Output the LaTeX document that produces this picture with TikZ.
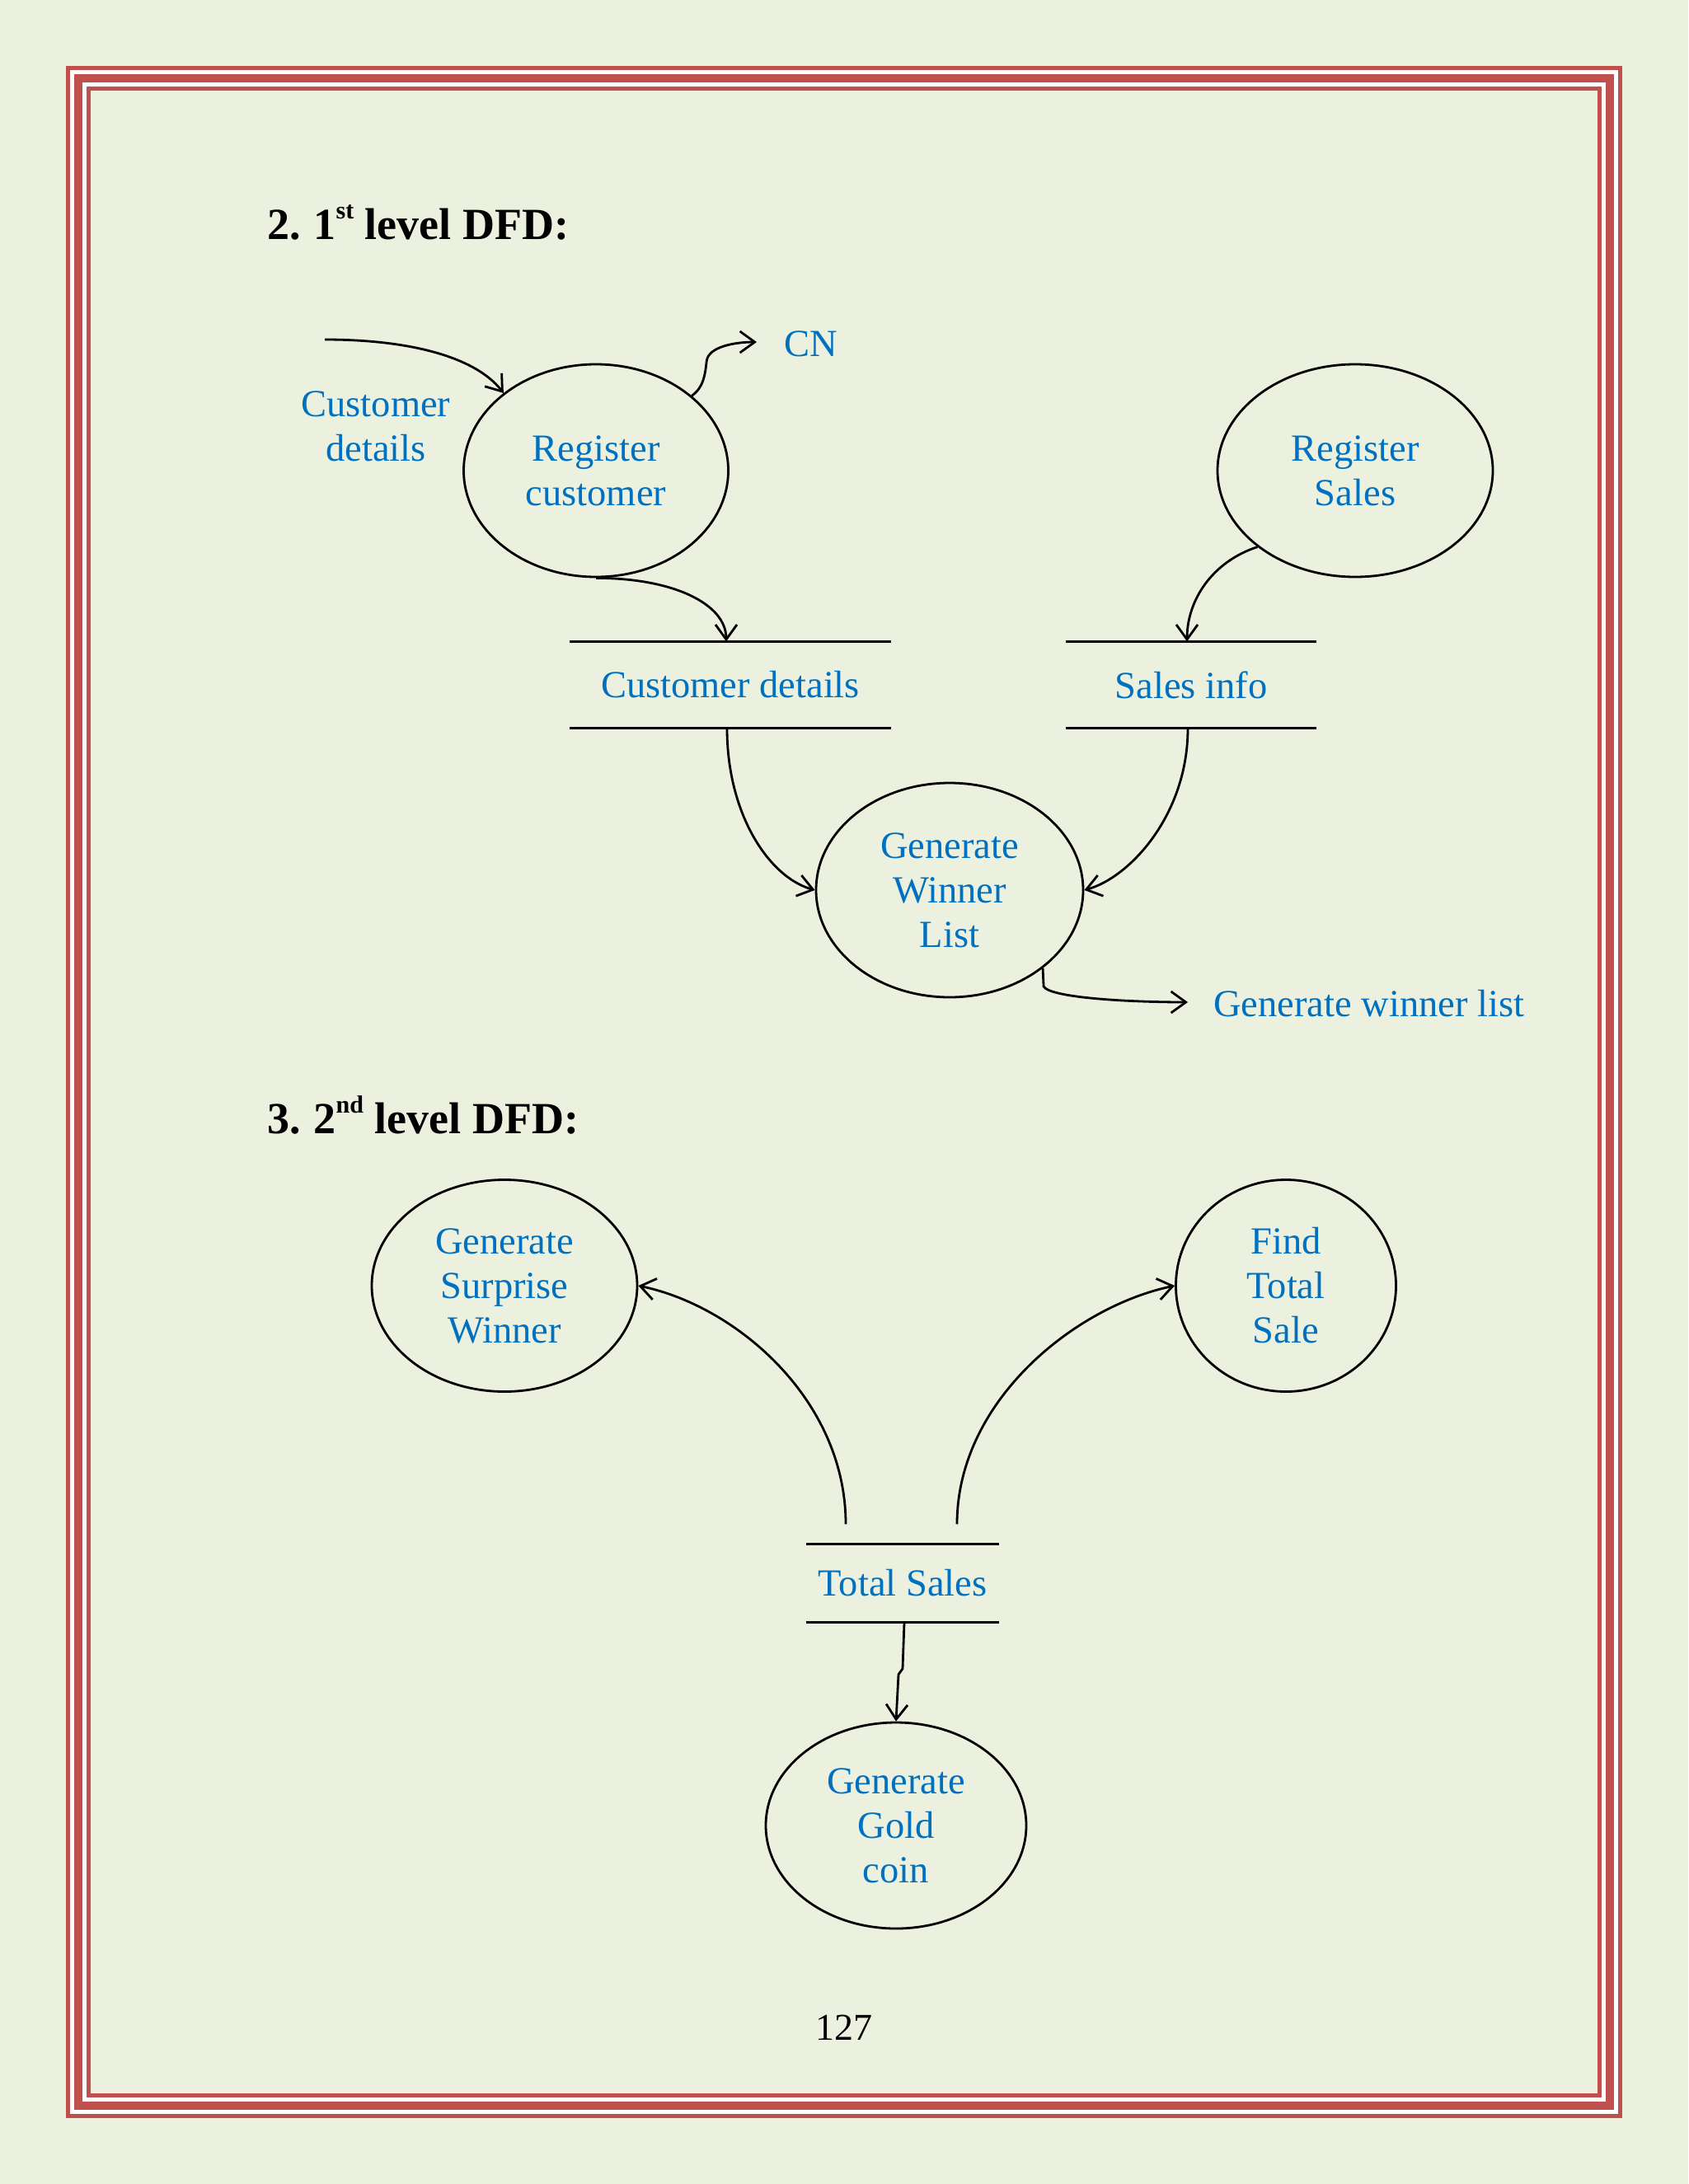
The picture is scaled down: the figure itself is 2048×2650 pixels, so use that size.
\documentclass[tikz,border=0pt]{standalone}
\usepackage{fontspec}
\setmainfont{Liberation Serif}
\usetikzlibrary{arrows.meta,shapes.geometric,calc}
\definecolor{pagebg}{HTML}{EBF1DE}
\definecolor{bordred}{HTML}{C0504D}
\definecolor{txtblue}{HTML}{0070C0}
\newcommand{\mysup}[1]{\raisebox{25pt}{\fontsize{30}{30}\selectfont #1}}
\begin{document}
\begin{tikzpicture}[x=1pt,y=-1pt,
  proc/.style={ellipse, draw=black, line width=2.8pt, inner sep=0pt, text=txtblue, align=center,
    font=\fontsize{46.5}{54}\selectfont},
  store/.style={rectangle, draw=none, inner sep=0pt, text=txtblue,
    font=\fontsize{46.5}{54}\selectfont},
  lbl/.style={inner sep=0pt, text=txtblue, align=center, font=\fontsize{46.5}{54}\selectfont},
  head/.style={inner sep=0pt, anchor=base west, font=\fontsize{54}{60}\selectfont\bfseries},
  flow/.style={line width=2.8pt, draw=black, -{Straight Barb[length=18pt,width=26pt,line width=2.8pt]}},
  sline/.style={line width=2.8pt, draw=black}
]
\useasboundingbox (0,0) rectangle (2048,2650);
\fill[pagebg] (0,0) rectangle (2048,2650);
% border
\fill[bordred] (80,80) rectangle (1968,2570);
\fill[white] (85,85) rectangle (1963,2565);
\fill[bordred] (90,90) rectangle (1958,2560);
\fill[white] (100,100) rectangle (1948,2550);
\fill[bordred] (105,105) rectangle (1943,2545);
\fill[pagebg] (110,110) rectangle (1938,2540);

% headings
\node[head] (h1) at (324,290) {2.\hspace{-2pt} 1\mysup{st} level DFD:};
\node[head] (h2) at (324,1375) {3.\hspace{-2pt} 2\mysup{nd} level DFD:};

% level 1 processes
\node[proc, minimum width=321pt, minimum height=258pt] (rc) at (723,571) {Register\\customer};
\node[proc, minimum width=334pt, minimum height=258pt] (rs) at (1644,571) {Register\\Sales};
\node[proc, minimum width=324pt, minimum height=260pt] (gwl) at (1152,1080) {Generate\\Winner\\List};

% stores
\node[store, minimum width=390pt, minimum height=105pt] (cds) at (886,831) {Customer details};
\node[store, minimum width=304pt, minimum height=105pt] (si) at (1445,831) {Sales info};
\draw[sline] (cds.north west) -- (cds.north east);
\draw[sline] (cds.south west) -- (cds.south east);
\draw[sline] (si.north west) -- (si.north east);
\draw[sline] (si.south west) -- (si.south east);

% labels
\node[lbl] (cdl) at (456,517) {Customer\\details};
\node[lbl, anchor=west] (cn) at (951,417) {CN};
\node[lbl, anchor=west] (gwlt) at (1472,1218) {Generate winner list};

\coordinate (cdin) at (394,412);
\coordinate (cntip) at ($(cn.west)+(-33,-2)$);
\coordinate (gwltip) at ($(gwlt.west)+(-31,-2)$);

% level 1 flows
\draw[flow] (cdin) .. controls +(100,0) and +(-35,-45) .. (rc.140);
\draw[flow] (rc.38) .. controls +(14,-10) and +(-2,18) .. ++(18,-42) .. controls +(2,-18) and +(-25,0) .. (cntip);
\draw[flow] (rc.south) .. controls +(95,0) and +(0,-45) .. ([xshift=-5pt]cds.north);
\draw[flow] (rs.218) .. controls +(-55,18) and +(0,-50) .. ([xshift=-5pt]si.north);
\draw[flow] ([xshift=-4pt]cds.south) .. controls +(0,105) and +(-55,-15) .. (gwl.west);
\draw[flow] ([xshift=-4pt]si.south) .. controls +(0,105) and +(55,-15) .. (gwl.east);
\draw[flow] (gwl.-40) -- ++(1,22) .. controls +(8,14) and +(-70,0) .. (gwltip);

% level 2
\node[proc, minimum width=322pt, minimum height=257pt] (gsw) at (612,1560) {Generate\\Surprise\\Winner};
\node[proc, minimum width=267pt, minimum height=257pt] (fts) at (1560,1560) {Find\\Total\\Sale};
\node[proc, minimum width=316pt, minimum height=250pt] (ggc) at (1087,2215) {Generate\\Gold\\coin};
\node[store, minimum width=234pt, minimum height=95pt] (ts) at (1095,1921) {Total Sales};
\draw[sline] (ts.north west) -- (ts.north east);
\draw[sline] (ts.south west) -- (ts.south east);

\coordinate (tsl) at ($(ts.north)+(-69,-24)$);
\coordinate (tsr) at ($(ts.north)+(66,-24)$);
\draw[flow] (tsl) .. controls +(0,-150) and +(120,25) .. (gsw.east);
\draw[flow] (tsr) .. controls +(0,-150) and +(-120,25) .. (fts.west);
\draw[flow] ([xshift=2pt]ts.south) -- ++(-2,56) -- ++(-5,7) -- (ggc.north);

% page number
\node[inner sep=0pt, anchor=base, font=\fontsize{46}{54}\selectfont] (pg) at (1024,2475) {127};
\end{tikzpicture}
\end{document}
